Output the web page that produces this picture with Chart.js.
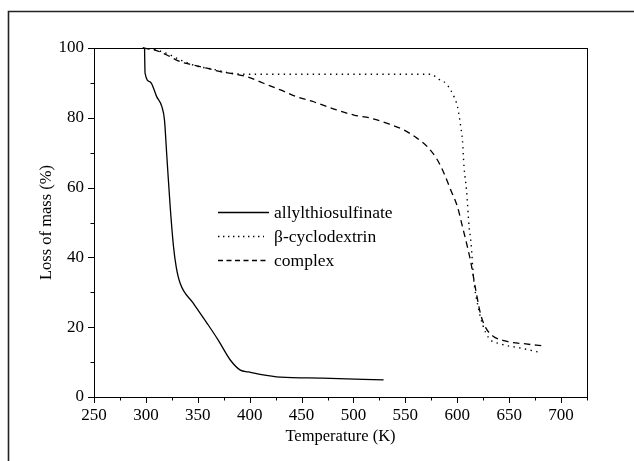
<!DOCTYPE html>
<html>
<head>
<meta charset="utf-8">
<script src="https://cdn.jsdelivr.net/npm/chart.js@4.4.1/dist/chart.umd.min.js"></script>
<style>
  html, body { margin: 0; padding: 0; background: #fff; }
  #wrap { width: 634px; height: 461px; position: relative; }
</style>
</head>
<body>
<div id="wrap"><canvas id="c" width="634" height="461"></canvas></div>
<script>
// ---- data ----
const seriesNames = ["allylthiosulfinate", "\u03B2-cyclodextrin", "complex"];

const allylT = [298.7, 299.2, 304.1, 310.5, 315.4, 317.9, 320.2, 323.4, 326.6, 329.2, 333.0, 345.6, 358.8, 369.7, 381.3, 391.0, 398.7, 410, 429.6, 470, 529.0];
const allylV = [100, 92.8, 90.3, 86.0, 83.2, 79.4, 68.9, 54.5, 43.1, 37.3, 32.6, 26.9, 21.2, 16.3, 10.6, 7.7, 7.2, 6.5, 5.7, 5.4, 4.9];

const cdT = [297, 310.5, 323.4, 333.0, 349.2, 364.9, 381.3, 393.9, 450, 520, 574.4, 582.4, 588.9, 593.7, 596.9, 600.2, 603.4, 605.0, 606.5, 608.9, 611.4, 613.0, 615.9, 619.7, 624.6, 630.4, 642.0, 661.3, 678];
const cdV = [100, 99.4, 98.0, 96.6, 94.8, 93.9, 92.8, 92.5, 92.5, 92.5, 92.5, 91.0, 89.9, 87.9, 86.0, 83.2, 77.4, 73.6, 66.0, 59.3, 48.8, 45.0, 33.5, 26.4, 20.6, 16.9, 15.2, 14.0, 12.9];

const cxT = [297, 308.9, 320.2, 333.0, 345.9, 358.8, 371.6, 384.5, 397.4, 413.4, 429.6, 445.7, 461.7, 474.6, 484.3, 500.3, 516.5, 532.6, 548.6, 561.5, 571.2, 580.9, 587.2, 593.7, 600.2, 605.0, 608.2, 613.0, 617.8, 622.7, 627.5, 634.2, 646.8, 666.1, 681];
const cxV = [100, 99.4, 98.0, 96.1, 95.1, 94.2, 93.2, 92.6, 91.8, 89.9, 88.0, 86.0, 84.6, 83.2, 82.2, 80.8, 79.9, 78.4, 76.5, 74.1, 71.7, 67.9, 64.1, 59.3, 54.5, 48.8, 45.0, 38.7, 30.7, 23.5, 19.8, 17.5, 16.0, 15.2, 14.7];

const xTicks = [250, 300, 350, 400, 450, 500, 550, 600, 650, 700];
const yTicks = [0, 20, 40, 60, 80, 100];
const xRange = [250, 725];
const yRange = [0, 100];
const xTitle = "Temperature (K)";
const yTitle = "Loss of mass (%)";

// ---- build ----
const FONT = "'Liberation Serif', 'Times New Roman', serif";
const pts = (xs, ys) => xs.map((x, i) => ({ x: x, y: ys[i] }));

const styles = [
  { borderDash: [], borderWidth: 1.3 },
  { borderDash: [1.4, 4.4], borderWidth: 1.4 },
  { borderDash: [6.5, 4.5], borderWidth: 1.3 }
];

const datasets = [pts(allylT, allylV), pts(cdT, cdV), pts(cxT, cxV)].map((d, i) => ({
  label: seriesNames[i],
  data: d,
  borderColor: '#000',
  backgroundColor: '#000',
  borderWidth: styles[i].borderWidth,
  borderDash: styles[i].borderDash,
  pointRadius: 0,
  cubicInterpolationMode: 'monotone',
  fill: false,
  clip: false
}));

const framePlugin = {
  id: 'frame',
  beforeDraw(chart) {
    const ctx = chart.ctx;
    ctx.save();
    ctx.strokeStyle = '#222';
    ctx.lineWidth = 1.6;
    ctx.beginPath();
    ctx.moveTo(8.5, chart.height);
    ctx.lineTo(8.5, 11.5);
    ctx.lineTo(chart.width, 11.5);
    ctx.stroke();
    ctx.restore();
  },
  afterDraw(chart) {
    const ctx = chart.ctx;
    const a = chart.chartArea;
    const xs = chart.scales.x, ys = chart.scales.y;
    ctx.save();
    ctx.strokeStyle = '#000';
    ctx.lineWidth = 1;
    ctx.strokeRect(Math.round(a.left) + 0.5, Math.round(a.top) + 0.5, Math.round(a.right - a.left), Math.round(a.bottom - a.top));
    ctx.beginPath();
    const xStep = xTicks[1] - xTicks[0];
    for (let v = xRange[0]; v <= xRange[1] + 1e-6; v += xStep / 2) {
      const major = xTicks.includes(v);
      const px = Math.round(xs.getPixelForValue(v)) + 0.5;
      ctx.moveTo(px, a.bottom);
      ctx.lineTo(px, a.bottom + (major ? 6 : 3.5));
    }
    const yStep = yTicks[1] - yTicks[0];
    for (let v = yRange[0]; v <= yRange[1] + 1e-6; v += yStep / 2) {
      const major = yTicks.includes(v);
      const py = Math.round(ys.getPixelForValue(v)) + 0.5;
      ctx.moveTo(a.left, py);
      ctx.lineTo(a.left - (major ? 6 : 3.5), py);
    }
    ctx.stroke();

    // legend inside plot
    const lx0 = xs.getPixelForValue(xRange[0]) + 124;
    const ly0 = ys.getPixelForValue(yRange[1]) + 164;
    const rowH = 24;
    ctx.font = "17.5px " + FONT;
    ctx.fillStyle = '#000';
    ctx.textBaseline = 'middle';
    ctx.textAlign = 'left';
    chart.data.datasets.forEach((ds, i) => {
      const y = Math.round(ly0 + i * rowH) + 0.5;
      ctx.beginPath();
      ctx.lineWidth = ds.borderWidth;
      const dash = i === 1 ? [1.4, 3.6] : (i === 2 ? [5, 3.5] : []);
      ctx.setLineDash(dash);
      ctx.moveTo(lx0, y);
      ctx.lineTo(lx0 + (i === 1 ? 46 : 51), y);
      ctx.stroke();
      ctx.setLineDash([]);
      ctx.fillText(ds.label, lx0 + 56, y + 1);
    });
    ctx.restore();
  }
};

new Chart(document.getElementById('c'), {
  type: 'line',
  data: { datasets: datasets },
  plugins: [framePlugin],
  options: {
    responsive: false,
    animation: false,
    events: [],
    layout: { padding: { left: 0, top: 48, right: 47, bottom: 0 } },
    plugins: { legend: { display: false }, tooltip: { enabled: false } },
    scales: {
      x: {
        type: 'linear',
        min: xRange[0], max: xRange[1],
        afterBuildTicks: (s) => { s.ticks = xTicks.map(v => ({ value: v })); },
        afterFit: (s) => { s.height = 64; },
        grid: { display: false, drawTicks: false },
        border: { display: false },
        ticks: { color: '#000', font: { family: FONT, size: 17 }, padding: 8, maxRotation: 0, autoSkip: false },
        title: { display: true, text: xTitle, color: '#000', font: { family: FONT, size: 16.5 }, padding: { top: 0, bottom: 14 } }
      },
      y: {
        type: 'linear',
        min: yRange[0], max: yRange[1],
        afterBuildTicks: (s) => { s.ticks = yTicks.map(v => ({ value: v })); },
        afterFit: (s) => { s.width = 94; },
        grid: { display: false, drawTicks: false },
        border: { display: false },
        ticks: { color: '#000', font: { family: FONT, size: 17 }, padding: 10, autoSkip: false },
        title: { display: true, text: yTitle, color: '#000', font: { family: FONT, size: 16.5 }, padding: { top: 37, bottom: 0 } }
      }
    }
  }
});
</script>
</body>
</html>
